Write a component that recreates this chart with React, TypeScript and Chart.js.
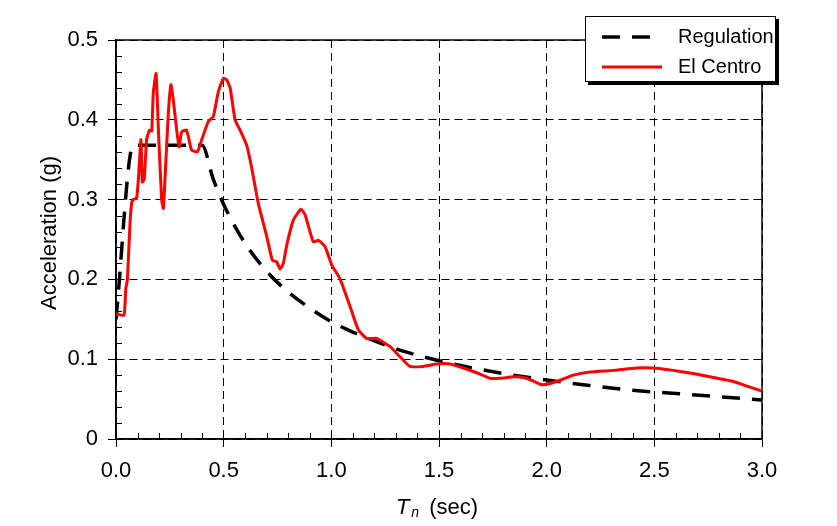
import React, { useEffect, useRef } from "react";
import { Chart, registerables } from "chart.js";

Chart.register(...registerables);

// ---- Data ----
const regulationPeriods = [0, 0.08, 0.4, 0.45, 0.5, 0.6, 0.7, 0.8, 0.9, 1.0, 1.1, 1.2, 1.3, 1.4, 1.5, 1.6, 1.8, 2.0, 2.2, 2.4, 2.6, 2.8, 3.0];
const regulationValues = [0.15, 0.368, 0.368, 0.327, 0.294, 0.245, 0.21, 0.184, 0.164, 0.147, 0.134, 0.123, 0.113, 0.105, 0.098, 0.092, 0.082, 0.074, 0.067, 0.061, 0.057, 0.053, 0.049];

const elCentroPeriods = [
  0, 0.037, 0.045, 0.053, 0.065, 0.073, 0.08, 0.096, 0.105, 0.116,
  0.122, 0.131, 0.142, 0.155, 0.166, 0.173, 0.186, 0.198, 0.212, 0.22,
  0.232, 0.243, 0.255, 0.266, 0.282, 0.293, 0.305, 0.328, 0.351, 0.378,
  0.398, 0.429, 0.452, 0.475, 0.499, 0.514, 0.53, 0.553, 0.58, 0.607,
  0.63, 0.661, 0.7, 0.726, 0.746, 0.762, 0.777, 0.793, 0.823, 0.859,
  0.878, 0.916, 0.94, 0.971, 1.002, 1.04, 1.087, 1.125, 1.164, 1.211,
  1.272, 1.319, 1.365, 1.427, 1.489, 1.551, 1.613, 1.675, 1.737, 1.783,
  1.845, 1.892, 1.935, 1.977, 2.047, 2.124, 2.201, 2.31, 2.418, 2.495,
  2.588, 2.681, 2.774, 2.867, 2.944, 3.0,
];
const elCentroValues = [
  0.157, 0.155, 0.187, 0.2, 0.27, 0.296, 0.3, 0.302, 0.33, 0.375,
  0.322, 0.325, 0.375, 0.387, 0.386, 0.433, 0.458, 0.38, 0.3, 0.289,
  0.35, 0.408, 0.444, 0.425, 0.387, 0.366, 0.385, 0.387, 0.362, 0.36,
  0.375, 0.398, 0.404, 0.435, 0.452, 0.45, 0.44, 0.4, 0.385, 0.368,
  0.34, 0.295, 0.254, 0.224, 0.222, 0.213, 0.22, 0.243, 0.274, 0.288,
  0.281, 0.247, 0.249, 0.241, 0.218, 0.201, 0.166, 0.137, 0.126, 0.126,
  0.116, 0.103, 0.091, 0.091, 0.094, 0.094, 0.089, 0.083, 0.076, 0.076,
  0.078, 0.077, 0.073, 0.068, 0.072, 0.08, 0.084, 0.086, 0.089, 0.089,
  0.086, 0.082, 0.077, 0.072, 0.065, 0.06,
];

const xTickLabels = ["0.0", "0.5", "1.0", "1.5", "2.0", "2.5", "3.0"];
const yTickLabels = ["0", "0.1", "0.2", "0.3", "0.4", "0.5"];
const seriesNames = ["Regulation", "El Centro"];
const yTitle = "Acceleration (g)";
const xTitleMain = "T";
const xTitleSub = "n";
const xTitleUnit = " (sec)";

const FONT = "'Liberation Sans', Arial, sans-serif";
const REG_DASH = [18, 12];

const decorPlugin = {
  id: "decor",
  beforeDatasetsDraw(chart: any) {
    const { ctx, chartArea, scales } = chart;
    const { left, right, top, bottom } = chartArea;
    ctx.save();
    ctx.strokeStyle = "#000";
    ctx.lineWidth = 1;
    ctx.setLineDash([]);
    ctx.beginPath();
    for (let i = 1; i < 30; i++) {
      if (i % 5 === 0) continue;
      const x = Math.round(scales.x.getPixelForValue(i / 10)) + 0.5;
      ctx.moveTo(x, bottom);
      ctx.lineTo(x, bottom - 6);
    }
    for (let i = 1; i < 25; i++) {
      if (i % 5 === 0) continue;
      const y = Math.round(scales.y.getPixelForValue(i / 50)) + 0.5;
      ctx.moveTo(left, y);
      ctx.lineTo(left + 6, y);
    }
    ctx.stroke();
    ctx.lineWidth = 1.5;
    ctx.strokeRect(left, top, right - left, bottom - top);
    ctx.restore();
  },
  afterDraw(chart: any) {
    const { ctx } = chart;
    ctx.save();
    ctx.fillStyle = "#000";
    ctx.font = `22px ${FONT}`;
    ctx.translate(50, 233);
    ctx.rotate(-Math.PI / 2);
    ctx.textAlign = "center";
    ctx.textBaseline = "middle";
    ctx.fillText(yTitle, 0, 0);
    ctx.restore();

    ctx.save();
    ctx.fillStyle = "#000";
    ctx.textBaseline = "alphabetic";
    ctx.textAlign = "left";
    ctx.font = `italic 22px ${FONT}`;
    const tW = ctx.measureText(xTitleMain).width;
    ctx.font = `italic 14px ${FONT}`;
    const nW = ctx.measureText(xTitleSub).width;
    ctx.font = `22px ${FONT}`;
    const uW = ctx.measureText(xTitleUnit).width;
    const total = tW + 2 + nW + 4 + uW;
    let x = 437 - total / 2;
    const base = 514;
    ctx.font = `italic 22px ${FONT}`;
    ctx.fillText(xTitleMain, x, base);
    x += tW + 2;
    ctx.font = `italic 14px ${FONT}`;
    ctx.fillText(xTitleSub, x, base + 3);
    x += nW + 4;
    ctx.font = `22px ${FONT}`;
    ctx.fillText(xTitleUnit, x, base);
    ctx.restore();

    ctx.save();
    const bx = 585, by = 16, bw = 191, bh = 66;
    ctx.fillStyle = "#000";
    ctx.fillRect(bx + 3, by + 3, bw, bh);
    ctx.fillStyle = "#fff";
    ctx.fillRect(bx, by, bw, bh);
    ctx.strokeStyle = "#000";
    ctx.lineWidth = 1;
    ctx.strokeRect(bx + 0.5, by + 0.5, bw - 1, bh - 1);
    ctx.lineWidth = 3.5;
    ctx.setLineDash(REG_DASH);
    ctx.beginPath();
    ctx.moveTo(602, 37);
    ctx.lineTo(654, 37);
    ctx.stroke();
    ctx.setLineDash([]);
    ctx.strokeStyle = "#ff0000";
    ctx.lineWidth = 3;
    ctx.beginPath();
    ctx.moveTo(602, 67);
    ctx.lineTo(662, 67);
    ctx.stroke();
    ctx.fillStyle = "#000";
    ctx.font = `20px ${FONT}`;
    ctx.textBaseline = "middle";
    ctx.textAlign = "left";
    ctx.fillText(seriesNames[0], 678, 37);
    ctx.fillText(seriesNames[1], 678, 67);
    ctx.restore();
  },
};

export default function App() {
  const ref = useRef<HTMLCanvasElement | null>(null);
  useEffect(() => {
    if (!ref.current) return;
    const regData = regulationPeriods.map((x, i) => ({ x, y: regulationValues[i] }));
    const ecData = elCentroPeriods.map((x, i) => ({ x, y: elCentroValues[i] }));
    const chart = new Chart(ref.current, {
      type: "line",
      data: {
        datasets: [
          {
            label: seriesNames[1],
            data: ecData,
            borderColor: "#ff0000",
            borderWidth: 3,
            pointRadius: 0,
            tension: 0.15,
            fill: false,
          },
          {
            label: seriesNames[0],
            data: regData,
            borderColor: "#000",
            borderWidth: 3.5,
            borderDash: REG_DASH,
            pointRadius: 0,
            cubicInterpolationMode: "monotone",
            fill: false,
          },
        ],
      },
      plugins: [decorPlugin],
      options: {
        animation: false,
        responsive: true,
        maintainAspectRatio: false,
        layout: { padding: { top: 40, right: 75, left: 0, bottom: 0 } },
        plugins: { legend: { display: false }, tooltip: { enabled: false }, title: { display: false } },
        scales: {
          x: {
            type: "linear",
            min: 0,
            max: 3,
            afterFit: (s: any) => { s.height = 87; },
            ticks: {
              stepSize: 0.5,
              color: "#000",
              padding: 11,
              maxRotation: 0,
              font: { family: FONT, size: 22 },
              callback: (_v: any, i: number) => xTickLabels[i],
            },
            grid: {
              color: "#000",
              lineWidth: 1,
              drawTicks: true,
              tickLength: 8,
              tickColor: "#000",
              tickBorderDash: [],
            },
            border: { display: true, color: "#000", width: 1.5, dash: [8, 5] },
          },
          y: {
            min: 0,
            max: 0.5,
            afterFit: (s: any) => { s.width = 116; },
            ticks: {
              stepSize: 0.1,
              color: "#000",
              padding: 10,
              font: { family: FONT, size: 22 },
              callback: (_v: any, i: number) => yTickLabels[i],
            },
            grid: {
              color: "#000",
              lineWidth: 1,
              drawTicks: true,
              tickLength: 8,
              tickColor: "#000",
              tickBorderDash: [],
            },
            border: { display: true, color: "#000", width: 1.5, dash: [8, 5] },
          },
        },
      },
    } as any);
    return () => chart.destroy();
  }, []);
  return (
    <div style={{ position: "fixed", left: 0, top: 0, width: 837, height: 526, background: "#fff" }}>
      <canvas ref={ref} />
    </div>
  );
}
